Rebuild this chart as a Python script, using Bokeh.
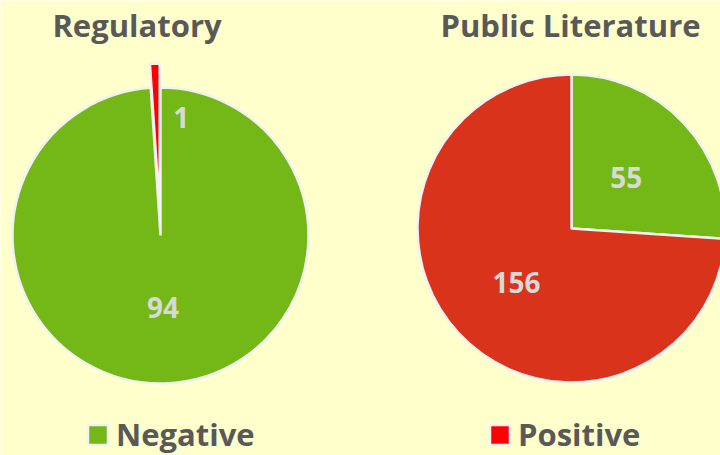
import numpy as np
from bokeh.plotting import figure
from bokeh.models import ColumnDataSource, Range1d, Legend, LegendItem
from bokeh.core.properties import value
from bokeh.embed import file_html
from bokeh.resources import INLINE

# ---- data ----
categories = ["Negative", "Positive"]
regulatory = [94, 1]
public_literature = [55, 156]
titles = ["Regulatory", "Public Literature"]

# ---- styles / layout ----
BG = "#FFFFCC"
GREEN = "#74B818"
RED_REG = "#FF0000"
RED_PUB = "#D9331C"
TEXT = "#595959"
LABEL = "#D9D9D9"
EDGE = "#F2F2F2"
FONT = "Open Sans"

W, H = 720, 455
p = figure(width=W, height=H, x_range=Range1d(0, 720), y_range=Range1d(0, 455),
           output_backend="svg", toolbar_location=None, min_border=0,
           background_fill_color=BG, border_fill_color=BG, outline_line_color=None)
p.axis.visible = False
p.grid.visible = False


def pie(values, colors, cx, cy, radius, explode, lab_ang, lab_dist):
    vals = np.array(values, dtype=float)
    frac = vals / vals.sum()
    cum = np.concatenate([[0.0], np.cumsum(frac)])
    ends = np.pi / 2 - 2 * np.pi * cum[:-1]
    starts = np.pi / 2 - 2 * np.pi * cum[1:]
    mids = (starts + ends) / 2
    ex = np.array(explode, dtype=float)
    src = ColumnDataSource(dict(
        x=cx + ex * np.cos(mids), y=cy + ex * np.sin(mids),
        start=starts, end=ends, color=colors, cat=categories))
    rend = p.wedge(x="x", y="y", radius=radius, start_angle="start", end_angle="end",
                   fill_color="color", line_color=EDGE, line_width=2.5, source=src)
    la = np.radians(np.array(lab_ang, dtype=float))
    ld = np.array(lab_dist, dtype=float)
    lsrc = ColumnDataSource(dict(
        x=cx + ld * np.cos(la), y=cy + ld * np.sin(la),
        t=[str(v) for v in values]))
    p.text(x="x", y="y", text="t", source=lsrc, text_align="center",
           text_baseline="middle", text_font=value(FONT), text_font_style="bold",
           text_font_size="28px", text_color=LABEL)
    return rend


r_reg = pie(regulatory, [GREEN, RED_REG], 160, 220, 148, [0, 24], [-88, 80], [72, 120])
r_pub = pie(public_literature, [GREEN, RED_PUB], 571, 227, 154, [0, 0], [43, 224.5], [75, 77])

# titles
tsrc = ColumnDataSource(dict(x=[136.5, 570], y=[431, 431], t=titles))
p.text(x="x", y="y", text="t", source=tsrc, text_align="center",
       text_baseline="alphabetic", text_font=value(FONT), text_font_style="bold",
       text_font_size="31px", text_color=TEXT)


def make_legend(label, rend, idx, loc):
    leg = Legend(items=[LegendItem(label=label, renderers=[rend], index=idx)],
                 location=loc, orientation="horizontal",
                 label_text_font=FONT, label_text_font_style="bold",
                 label_text_font_size="31px", label_text_color=TEXT,
                 glyph_width=25, glyph_height=25, label_standoff=6,
                 padding=0, margin=0, spacing=0,
                 border_line_color=None, background_fill_alpha=0)
    p.add_layout(leg)


make_legend("Negative", r_reg, 0, (85, 0))
make_legend("Positive", r_reg, 1, (487, 0))

open("out.html", "w").write(file_html(p, INLINE))
